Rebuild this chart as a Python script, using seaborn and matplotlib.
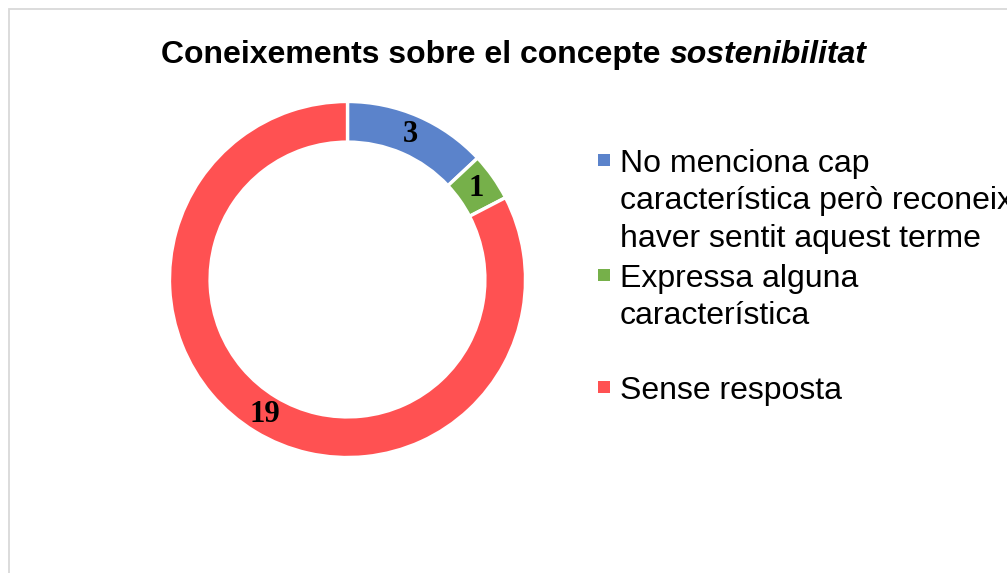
import matplotlib
matplotlib.use("Agg")
import matplotlib.pyplot as plt
from matplotlib.patches import Rectangle
import seaborn as sns

# data
categories = ["No menciona cap característica però reconeix haver sentit aquest terme",
              "Expressa alguna característica",
              "Sense resposta"]
legend_lines = [["No menciona cap", "característica però reconeix", "haver sentit aquest terme"],
                ["Expressa alguna", "característica"],
                ["Sense resposta"]]
counts = [3, 1, 19]
colors = ["#5B83CB", "#76B04A", "#FF5152"]
title_main = "Coneixements sobre el concepte "
title_ital = "sostenibilitat"

sns.set_theme(style="white")
plt.rcParams['font.family'] = ['Liberation Sans', 'DejaVu Sans']
plt.rcParams['text.color'] = 'black'

W, H = 1007, 573
fig = plt.figure(figsize=(W / 100, H / 100), dpi=100)

def px(x, y):
    # pixel (top-left origin) -> figure fraction
    return x / W, 1 - y / H

# chart frame (cut by the image edge on the right and bottom)
fig.add_artist(Rectangle((8.5 / W, -0.1), 1.2, 1.1 - 9.5 / H, transform=fig.transFigure,
                         fill=False, ec="#D9D9D9", lw=1.3))

# donut
cx, cy, r = 347.5, 279.5, 178
ax = fig.add_axes([(cx - r) / W, 1 - (cy + r) / H, 2 * r / W, 2 * r / H])
total = sum(counts)
wedges, _, autotexts = ax.pie(
    counts, colors=colors, startangle=90, counterclock=False, radius=1,
    autopct=lambda p: f"{round(p * total / 100)}", pctdistance=0.888,
    wedgeprops=dict(width=0.228, edgecolor="white", linewidth=2.4),
    textprops=dict(family="Liberation Serif", fontweight="bold", fontsize=22, color="black"))
ax.set_xlim(-1, 1)
ax.set_ylim(-1, 1)
ax.set_aspect("equal")
ax.axis("off")

# title with italic last word
renderer = fig.canvas.get_renderer()
tx, ty = px(514, 63)
t1 = fig.text(0, ty, title_main, fontsize=23, fontweight="bold", va="baseline", color="black")
t2 = fig.text(0, ty, title_ital, fontsize=23, fontweight="bold", style="italic",
              va="baseline", color="black")
w1 = t1.get_window_extent(renderer).width / W
w2 = t2.get_window_extent(renderer).width / W
t1.set_x(tx - (w1 + w2) / 2)
t2.set_x(tx - (w1 + w2) / 2 + w1)

# legend drawn by hand so the marker sits on the first line
first_baselines = [172, 287, 399]
pitch = 37.5
for lines, color, yb in zip(legend_lines, colors, first_baselines):
    mx, my = px(598, yb - 6)
    fig.add_artist(Rectangle((mx, my), 12 / W, 12 / H, transform=fig.transFigure,
                             fc=color, ec="none"))
    for i, line in enumerate(lines):
        lx, ly = px(620, yb + i * pitch)
        fig.text(lx, ly, line, fontsize=23, va="baseline", color="black")

fig.savefig("out.png", dpi=100)
